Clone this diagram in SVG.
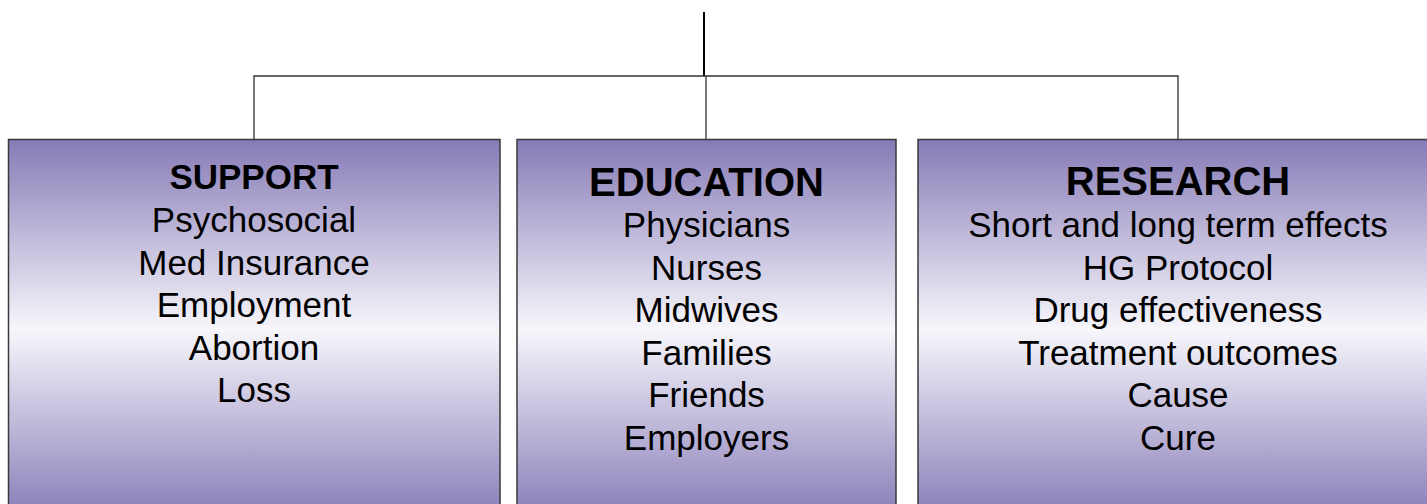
<svg xmlns="http://www.w3.org/2000/svg" width="1427" height="504" viewBox="0 0 1427 504">
<defs>
<linearGradient id="g" x1="0" y1="0" x2="0" y2="1">
<stop offset="0" stop-color="#877bb7"/>
<stop offset="0.5" stop-color="#f7f6fb"/>
<stop offset="1" stop-color="#877bb7"/>
</linearGradient>
</defs>
<style>
.box{fill:url(#g);stroke:#3a3a3a;stroke-width:1.5}
.ln{fill:none;stroke:#333;stroke-width:1.3}
text{font-family:"Liberation Sans",Arial,sans-serif;fill:#000;text-anchor:middle}
.b{font-size:35px}
.h{font-weight:bold;font-size:40px}
.hs{font-weight:bold;font-size:35px}
</style>
<rect width="1427" height="504" fill="#fff"/>
<g id="connectors">
<line x1="704" y1="12" x2="704" y2="76" stroke="#000" stroke-width="2"/>
<polyline class="ln" points="254,140 254,76 1178,76 1178,140"/>
<line class="ln" x1="706" y1="76" x2="706" y2="140"/>
</g>
<g id="support">
<rect class="box" x="8.5" y="139.5" width="491.5" height="380"/>
<text class="hs" x="254" y="189">SUPPORT</text>
<text class="b" x="254" y="232">Psychosocial</text>
<text class="b" x="254" y="274.5">Med Insurance</text>
<text class="b" x="254" y="317">Employment</text>
<text class="b" x="254" y="359.5">Abortion</text>
<text class="b" x="254" y="402">Loss</text>
</g>
<g id="education">
<rect class="box" x="517" y="139.5" width="379" height="380"/>
<text class="h" x="706.5" y="196">EDUCATION</text>
<text class="b" x="706.5" y="237">Physicians</text>
<text class="b" x="706.5" y="279.5">Nurses</text>
<text class="b" x="706.5" y="322">Midwives</text>
<text class="b" x="706.5" y="364.5">Families</text>
<text class="b" x="706.5" y="407">Friends</text>
<text class="b" x="706.5" y="449.5">Employers</text>
</g>
<g id="research">
<rect class="box" x="918" y="139.5" width="520" height="380"/>
<text class="h" x="1178" y="195">RESEARCH</text>
<text class="b" x="1178" y="237">Short and long term effects</text>
<text class="b" x="1178" y="279.5">HG Protocol</text>
<text class="b" x="1178" y="322">Drug effectiveness</text>
<text class="b" x="1178" y="364.5">Treatment outcomes</text>
<text class="b" x="1178" y="407">Cause</text>
<text class="b" x="1178" y="449.5">Cure</text>
</g>
</svg>
